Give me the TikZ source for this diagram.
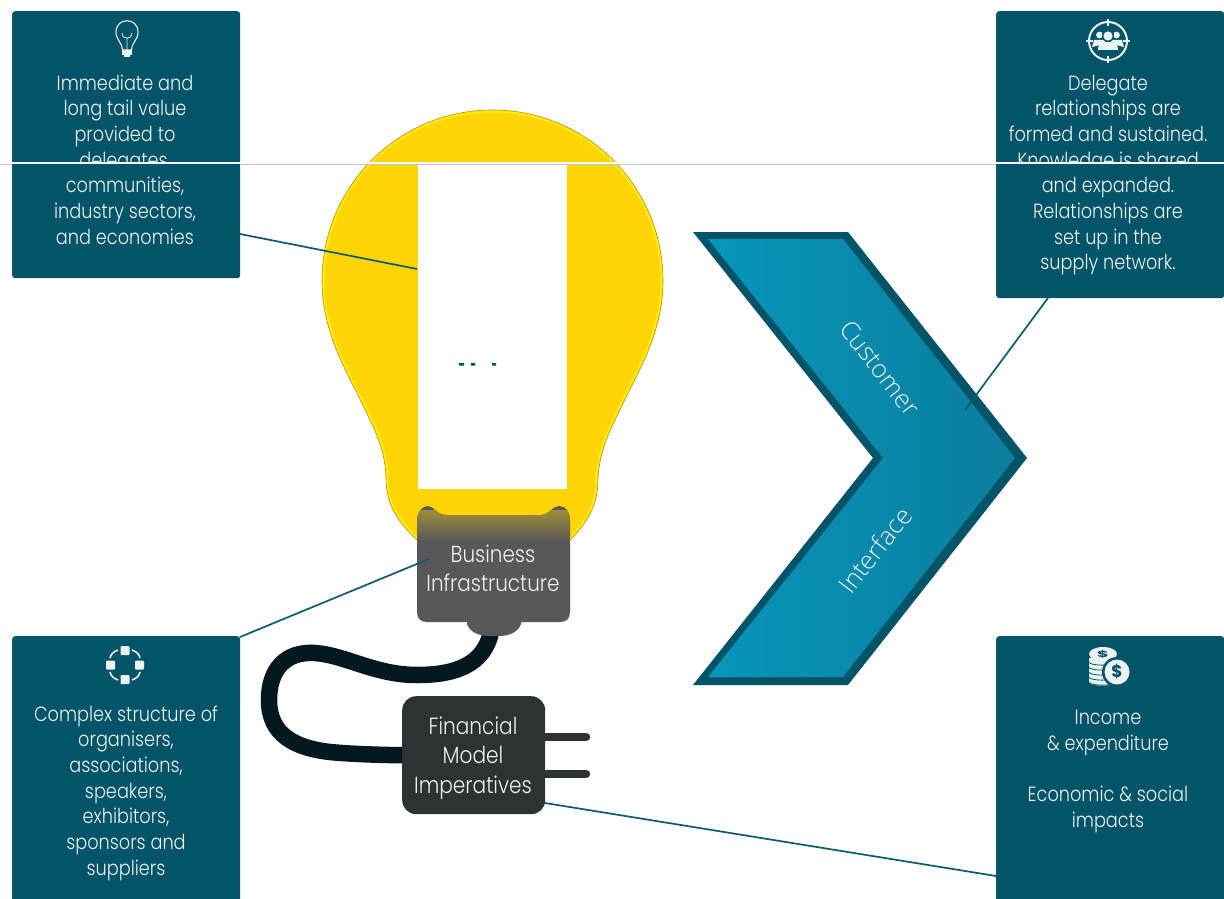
\documentclass[tikz,border=0pt]{standalone}
\usepackage{fontspec}
\setmainfont{Poppins}[FakeStretch=0.86,UprightFont=* Light]
\newfontfamily\chevfont{Open Sans}[UprightFont=* Light]
\newfontfamily\boldglyph{Poppins}[UprightFont=* Bold]
\usetikzlibrary{calc}
\definecolor{panelteal}{HTML}{035468}
\definecolor{linkteal}{HTML}{0F5A6C}
\definecolor{chevL}{HTML}{0796BA}
\definecolor{chevR}{HTML}{0A7D9C}
\definecolor{bulbfill}{HTML}{FFD508}
\definecolor{bulbglow}{HTML}{FFF000}
\definecolor{bulbedge}{HTML}{C8802A}
\definecolor{bizgrey}{HTML}{58585A}
\definecolor{plugdark}{HTML}{2D3335}
\definecolor{corddark}{HTML}{03191F}
\definecolor{softwhite}{HTML}{EAF2F2}
\definecolor{rule}{HTML}{C4C4C4}
\tikzset{
  panel/.style={fill=panelteal,rounded corners=3pt,anchor=north west,inner sep=0pt,minimum width=228pt},
  paneltext/.style={text=softwhite,align=center,inner sep=0pt,font=\fontsize{20.6}{25.7}\selectfont},
  link/.style={draw=linkteal,line width=1.7pt},
  chevtext/.style={text=softwhite,inner sep=0pt,font=\chevfont\fontsize{25.5}{28}\selectfont},
  icon/.style={draw=softwhite,line width=1.1pt,fill=none},
  iconfill/.style={fill=softwhite,draw=none},
}
\newcommand{\bulbshape}{(417,540) .. controls (398,522) and (386,505) .. (386,478) .. controls (385,445) and (372,425) .. (358,395) .. controls (340,360) and (322,325) .. (322,281) .. controls (322,186.6) and (398,110) .. (492.5,110) .. controls (587,110) and (663,186.6) .. (663,281) .. controls (663,325) and (645,360) .. (627,395) .. controls (613,425) and (600,445) .. (598,478) .. controls (598,505) and (588,522) .. (570,540) -- cycle}
\newcommand{\bizshape}{(417,522) .. controls (417,512) and (422,506) .. (428,506) .. controls (434,506) and (436,515) .. (447,515) -- (540,515) .. controls (550,515) and (552,506) .. (559,506) .. controls (566,506) and (570,512) .. (570,522) -- (570,612) .. controls (570,619) and (566,622) .. (560,622) -- (427,622) .. controls (421,622) and (417,619) .. (417,612) -- cycle}
\begin{document}
\begin{tikzpicture}[x=1pt,y=-1pt]
\useasboundingbox (0,0) rectangle (1224,899);
\clip (0,0) rectangle (1224,899);
\fill[white] (0,0) rectangle (1224,899);
% bulb
\fill[bulbfill] \bulbshape;
\begin{scope}
  \clip \bulbshape;
  \draw[bulbglow,line width=5pt] \bulbshape;
\end{scope}
\draw[bulbedge,line width=0.6pt] \bulbshape;
\node[fill=white,minimum width=149pt,minimum height=325pt,inner sep=0pt,anchor=north west] (window) at (418,164) {};
\fill[panelteal] (459,363) rectangle (464,365.5) (471,363) rectangle (475,365.5) (492,363) rectangle (496,365.5);
% cord
\coordinate (cordtop) at (491,632);
% plug
\node[fill=plugdark,rounded corners=14pt,minimum width=143pt,minimum height=118pt,inner sep=0pt,anchor=north west] (plug) at (402,696) {};
\node[text=softwhite,align=center,inner sep=0pt,font=\fontsize{23.4}{29.5}\selectfont] (plugtext) at (473,758) {Financial\\Model\\Imperatives};
\draw[corddark,line width=16.5pt] (cordtop) .. controls (484,665) and (455,675) .. (417,675) .. controls (375,675) and (345,655) .. (315,653) .. controls (285,651) and (269,670) .. (269,700) .. controls (269,735) and (295,748) .. (330,752) .. controls (350,754) and (380,755) .. (plug.west);
\coordinate (prongA) at (586,737);
\coordinate (prongB) at (586,774);
\draw[plugdark,line width=8.5pt,line cap=round] (plug.east |- prongA) -- (prongA);
\draw[plugdark,line width=8.5pt,line cap=round] (plug.east |- prongB) -- (prongB);
% business box
\fill[bizgrey] (467,618) -- (521,618) -- (521,624) .. controls (518,632) and (510,636) .. (498,636) -- (490,636) .. controls (478,636) and (470,632) .. (467,624) -- cycle;
\fill[bizgrey] \bizshape;
\begin{scope}
  \clip \bizshape;
  \shade[top color=bulbfill!42!bizgrey,bottom color=bizgrey] (417,510) rectangle (570,542);
\end{scope}
\node[text=softwhite,align=center,inner sep=0pt,font=\fontsize{23.2}{29}\selectfont] (biz) at (493,568) {Business\\Infrastructure};
% chevron
\fill[panelteal] (693,232) -- (848,232) -- (1027,458) -- (848,685) -- (693,685) -- (873,458) -- cycle;
\shade[left color=chevL,right color=chevR] (708,239) -- (843,239) -- (1015,458) -- (843,677) -- (708,677) -- (883,458) -- cycle;
\node[chevtext,rotate=-52] (cust) at (880,368) {Customer};
\node[chevtext,rotate=52] (intf) at (875,550) {Interface};
% panels
\node[panel,minimum height=267pt] (pa) at (12,11) {};
\node[panel,minimum height=287pt] (pb) at (996,11) {};
\node[panel,minimum height=290pt] (pc) at (12,636) {};
\node[panel,minimum height=290pt] (pd) at (996,636) {};
% connector ends
\coordinate (endA) at (417,269);
\coordinate (endB) at (965,410);
\coordinate (endC) at (429,559);
\coordinate (startD) at (545,803);
\draw[link] (240,234) -- (endA);
\draw[link] (1048,298) -- (endB);
\draw[link] (240,637) -- (endC);
\draw[link] (startD) -- (996,876);
% panel text
\node[paneltext] (ta) at (125,159.5) {Immediate and\\long tail value\\provided to\\delegates,\\communities,\\industry sectors,\\and economies};
\node[paneltext] (tb) at (1108,175) {Delegate\\relationships are\\formed and sustained.\\Knowledge is shared\\and expanded.\\Relationships are\\set up in the\\supply network.};
\node[paneltext] (tc) at (126,793) {Complex structure of\\organisers,\\associations,\\speakers,\\exhibitors,\\sponsors and\\suppliers};
\node[paneltext] (td) at (1108,771.5) {Income\\\& expenditure\\[25.7pt]Economic \& social\\impacts};
% hide the lower half of the line crossed by the band
\fill[panelteal] (12,164) rectangle (240,173);
\fill[panelteal] (996,164) rectangle (1224,173);
% band across the picture
\fill[white] (0,161.5) rectangle (1224,164);
\draw[rule,line width=1pt] (0,164.2) -- (12,164.2) (240,164.2) -- (996,164.2);
% bulb icon
\draw[icon] (122.5,50) .. controls (122,42) and (116,40) .. (116,32) .. controls (116,17) and (138,17) .. (138,32) .. controls (138,40) and (132,42) .. (131.5,50) -- cycle;
\draw[icon,line width=0.8pt] (127,50) -- (127,38) (127,38) .. controls (123,38) and (122,35) .. (122,33) (127,38) .. controls (131,38) and (132,35) .. (132,33);
\fill[softwhite] (122,50.5) rectangle (132,55.5);
\fill[softwhite] (124,55.5) rectangle (130,57.5);
% people icon
\draw[softwhite,line width=2pt] (1108,41) circle[radius=19];
\draw[softwhite,line width=1.6pt] (1108,19) -- (1108,26) (1108,56) -- (1108,63) (1086,41) -- (1093,41) (1123,41) -- (1130,41);
\fill[softwhite] (1099.5,35) circle[radius=3.4] (1116.5,35) circle[radius=3.4];
\fill[softwhite] (1092,47) -- (1094,40) -- (1105,40) -- (1105,44) -- cycle;
\fill[softwhite] (1124,47) -- (1122,40) -- (1111,40) -- (1111,44) -- cycle;
\fill[panelteal] (1108,36) circle[radius=6];
\fill[softwhite] (1108,36) circle[radius=4.6];
\fill[softwhite] (1098,50) .. controls (1098,43) and (1103,42) .. (1108,42) .. controls (1113,42) and (1118,43) .. (1118,50) -- cycle;
% organisation icon
\draw[softwhite,line width=1.6pt] (118,650) .. controls (113,652) and (111,654) .. (110,658)
  (132,650) .. controls (137,652) and (139,654) .. (140,658)
  (118,680) .. controls (113,678) and (111,676) .. (110,672)
  (132,680) .. controls (137,678) and (139,676) .. (140,672);
\fill[softwhite,rounded corners=1pt] (120.5,646) rectangle (129.5,655) (120.5,675) rectangle (129.5,684) (106,660.5) rectangle (115,669.5) (135,660.5) rectangle (144,669.5);
% coins icon
\foreach \cy in {678,673,668,663,658}{
  \fill[softwhite] (1089,\cy) -- (1089,\cy+5) .. controls (1092,\cy+8.5) and (1112,\cy+8.5) .. (1116,\cy+5) -- (1116,\cy) -- cycle;
  \draw[panelteal,line width=0.8pt] (1089,\cy+4.5) .. controls (1092,\cy+8) and (1112,\cy+8) .. (1116,\cy+4.5);
}
\fill[softwhite] (1103,654) ellipse[x radius=14,y radius=7];
\node[text=panelteal,inner sep=0pt,font=\boldglyph\fontsize{11}{11}\selectfont,xscale=1.6,yscale=.8] (dollarA) at (1103,654) {\$};
\fill[panelteal] (1117,672) circle[radius=15];
\fill[softwhite] (1117,672) circle[radius=12.5];
\node[text=panelteal,inner sep=0pt,font=\boldglyph\fontsize{17}{17}\selectfont] (dollarB) at (1117,672) {\$};
\end{tikzpicture}
\end{document}
